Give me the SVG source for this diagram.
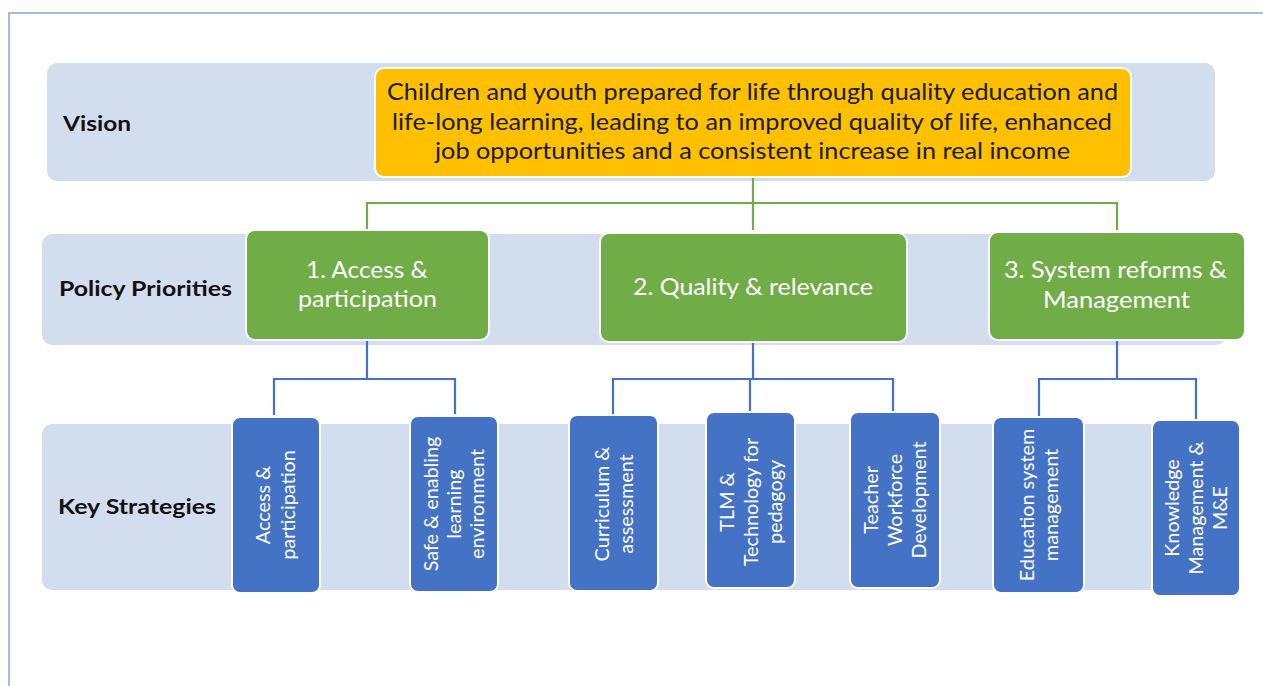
<svg xmlns="http://www.w3.org/2000/svg" width="1263" height="686" viewBox="0 0 1263 686">
<style>
.band{fill:#d2deee;}
.frame{fill:none;stroke:#8aa6dc;stroke-width:1.5;}
.vis{fill:#ffc000;stroke:#ffffff;stroke-width:2;}
.pp{fill:#70ad47;stroke:#ffffff;stroke-width:2;}
.ks{fill:#4472c4;stroke:#ffffff;stroke-width:2;}
.lbl{font-family:Lato,"Liberation Sans",sans-serif;font-weight:bold;font-size:21px;fill:#111111;}
.vt{font-family:Lato,"Liberation Sans",sans-serif;font-size:23px;fill:#1a1a1a;text-anchor:middle;}
.pt{font-family:Lato,"Liberation Sans",sans-serif;font-size:23px;fill:#ffffff;text-anchor:middle;}
.kt{font-family:Lato,"Liberation Sans",sans-serif;font-size:19.8px;fill:#ffffff;text-anchor:middle;}
.gc{fill:none;stroke:#70ad47;stroke-width:2.2;}
.bc{fill:none;stroke:#4472c4;stroke-width:2.2;}
</style>
<rect width="1263" height="686" fill="#ffffff"/>
<path class="frame" d="M9,686 V13 H1263"/>
<g id="lanes">
<rect class="band" x="47" y="63" width="1168" height="118" rx="10"/>
<rect class="band" x="42" y="234" width="1184" height="111" rx="10"/>
<rect class="band" x="42" y="424" width="1190" height="166" rx="10"/>
<text class="lbl" x="63" y="131" textLength="68" lengthAdjust="spacingAndGlyphs">Vision</text>
<text class="lbl" x="59" y="296" textLength="173" lengthAdjust="spacingAndGlyphs">Policy Priorities</text>
<text class="lbl" x="58" y="514" textLength="158" lengthAdjust="spacingAndGlyphs">Key Strategies</text>
</g>
<g id="connectors">
<path class="gc" d="M753,177 V230 M367,230 V203 H1117 V230"/>
<path class="bc" d="M367,340 V379 M274,415 V379 H455 V414"/>
<path class="bc" d="M753,342 V379 M613,414 V379 H893 V412 M750,379 V412"/>
<path class="bc" d="M1117,340 V379 M1039,417 V379 H1196 V420"/>
</g>
<g id="vision">
<rect class="vis" x="375" y="68" width="756" height="109" rx="9"/>
<text class="vt" x="752.5" y="100" textLength="731" lengthAdjust="spacingAndGlyphs">Children and youth prepared for life through quality education and</text>
<text class="vt" x="752" y="130" textLength="720" lengthAdjust="spacingAndGlyphs">life-long learning, leading to an improved quality of life, enhanced</text>
<text class="vt" x="752.5" y="159" textLength="635" lengthAdjust="spacingAndGlyphs">job opportunities and a consistent increase in real income</text>
</g>
<g id="priority1">
<rect class="pp" x="246" y="230" width="243" height="110" rx="9"/>
<text class="pt" x="367" y="278" textLength="122" lengthAdjust="spacingAndGlyphs">1. Access &amp;</text>
<text class="pt" x="367.5" y="307" textLength="139" lengthAdjust="spacingAndGlyphs">participation</text>
</g>
<g id="priority2">
<rect class="pp" x="600" y="233" width="307" height="109" rx="9"/>
<text class="pt" x="753" y="295" textLength="240" lengthAdjust="spacingAndGlyphs">2. Quality &amp; relevance</text>
</g>
<g id="priority3">
<rect class="pp" x="989" y="232" width="256" height="108" rx="9"/>
<text class="pt" x="1115.5" y="278" textLength="223" lengthAdjust="spacingAndGlyphs">3. System reforms &amp;</text>
<text class="pt" x="1116.5" y="308" textLength="147" lengthAdjust="spacingAndGlyphs">Management</text>
</g>
<g id="strategy1">
<rect class="ks" x="232" y="417" width="88" height="176" rx="8"/>
<g transform="translate(276,505) rotate(-90)">
<text class="kt" x="0" y="-6">Access &amp;</text>
<text class="kt" x="0" y="19">participation</text>
</g>
</g>
<g id="strategy2">
<rect class="ks" x="410" y="416" width="88" height="176" rx="8"/>
<g transform="translate(454,504) rotate(-90)">
<text class="kt" x="0" y="-16">Safe &amp; enabling</text>
<text class="kt" x="0" y="7">learning</text>
<text class="kt" x="0" y="30">environment</text>
</g>
</g>
<g id="strategy3">
<rect class="ks" x="569" y="415" width="89" height="176" rx="8"/>
<g transform="translate(613.5,504) rotate(-90)">
<text class="kt" x="0" y="-5">Curriculum &amp;</text>
<text class="kt" x="0" y="19">assessment</text>
</g>
</g>
<g id="strategy4">
<rect class="ks" x="706" y="412" width="89" height="176" rx="8"/>
<g transform="translate(750.5,502) rotate(-90)">
<text class="kt" x="0" y="-17">TLM &amp;</text>
<text class="kt" x="0" y="7">Technology for</text>
<text class="kt" x="0" y="31">pedagogy</text>
</g>
</g>
<g id="strategy5">
<rect class="ks" x="850" y="412" width="90" height="176" rx="8"/>
<g transform="translate(895,500) rotate(-90)">
<text class="kt" x="0" y="-17">Teacher</text>
<text class="kt" x="0" y="7">Workforce</text>
<text class="kt" x="0" y="31">Development</text>
</g>
</g>
<g id="strategy6">
<rect class="ks" x="993" y="417" width="91" height="176" rx="8"/>
<g transform="translate(1038.5,505) rotate(-90)">
<text class="kt" x="0" y="-5">Education system</text>
<text class="kt" x="0" y="19">management</text>
</g>
</g>
<g id="strategy7">
<rect class="ks" x="1152" y="420" width="88" height="176" rx="8"/>
<g transform="translate(1196,508) rotate(-90)">
<text class="kt" x="0" y="-17">Knowledge</text>
<text class="kt" x="0" y="7">Management &amp;</text>
<text class="kt" x="0" y="31">M&amp;E</text>
</g>
</g>
</svg>
